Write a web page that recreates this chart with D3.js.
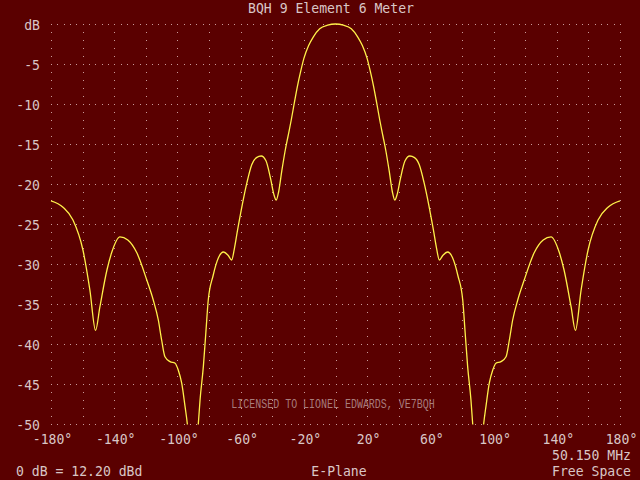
<!DOCTYPE html>
<html><head><meta charset="utf-8">
<script src="https://cdn.jsdelivr.net/npm/d3@7"></script>
<style>
html,body{margin:0;padding:0;background:#5a0000;}
svg{display:block;}
</style></head>
<body>
<svg id="chart" width="640" height="480"></svg>
<script>
// ---- data ----
const titleText = "BQH 9 Element 6 Meter";
const anglesDeg = [-180,-172.4,-166.1,-159.8,-155.4,-151.8,-149.1,-144.6,-141.5,-136.4,-131.4,-125.7,-119.4,-115.3,-112.1,-110,-107.9,-104.7,-101.5,-99.5,-97.3,-95.2,-93.8,-92,-90,-88,-86.8,-85.7,-83.6,-82,-80.5,-77.5,-74,-71,-68,-65.7,-64,-62,-59,-56,-53,-50,-47,-44,-41,-39,-37.5,-36,-34,-32,-30,-28,-26,-24,-22,-20,-17,-14,-10,-5,0,5,10,14,17,20,22,24,26,28,30,32,34,36,37.5,39,41,44,47,50,53,56,59,62,64,65.7,68,71,74,77.5,80.5,82,83.6,85.7,86.8,88,90,92,93.8,95.2,97.3,99.5,101.5,104.7,107.9,110,112.1,115.3,119.4,125.7,131.4,136.4,141.5,144.6,149.1,151.8,155.4,159.8,166.1,172.4,180];
const gainDb = [-22.1,-22.9,-24.5,-28.25,-33.25,-38.3,-35.4,-30.75,-28.5,-26.6,-27,-28.6,-32,-34.5,-37,-39.5,-41.6,-42.2,-42.4,-43.25,-44.9,-47.8,-49.9,-54,-60,-54,-50,-47,-42.8,-38.5,-34.5,-31.5,-29.2,-28.5,-28.9,-29.5,-28.1,-25.8,-22.6,-19.8,-17.6,-16.7,-16.5,-17.1,-19.4,-21.3,-22,-21.0,-18.4,-16.0,-14.0,-12.0,-9.8,-7.7,-5.9,-4.3,-2.7,-1.6,-0.6,-0.15,0,-0.15,-0.6,-1.6,-2.7,-4.3,-5.9,-7.7,-9.8,-12.0,-14.0,-16.0,-18.4,-21.0,-22,-21.3,-19.4,-17.1,-16.5,-16.7,-17.6,-19.8,-22.6,-25.8,-28.1,-29.5,-28.9,-28.5,-29.2,-31.5,-34.5,-38.5,-42.8,-47,-50,-54,-60,-54,-49.9,-47.8,-44.9,-43.25,-42.4,-42.2,-41.6,-39.5,-37,-34.5,-32,-28.6,-27,-26.6,-28.5,-30.75,-35.4,-38.3,-33.25,-28.25,-24.5,-22.9,-22.1];
const xTickValues = [-180,-140,-100,-60,-20,20,60,100,140,180];
const yTickValues = [0,-5,-10,-15,-20,-25,-30,-35,-40,-45,-50];
const xGridValues = [-180,-160,-140,-120,-100,-80,-60,-40,-20,0,20,40,60,80,100,120,140,160,180];
const footerLeft = "0 dB = 12.20 dBd";
const footerCenter = "E-Plane";
const footerFreq = "50.150 MHz";
const footerSpace = "Free Space";
const licenseText = "LICENSED TO LIONEL EDWARDS, VE7BQH";

// ---- drawing ----
const svg = d3.select("#chart");
const BG = "#5a0000", TXT = "#d9c6c6", GRID = "#c99a9a", LINE = "#fff04a";
const FONT = "'DejaVu Sans Mono', 'Liberation Mono', monospace";
const CW = 7.9, FS = 14;

svg.append("rect").attr("width",640).attr("height",480).attr("fill",BG);

const x = d3.scaleLinear().domain([-180,180]).range([51,620]);
const y = d3.scaleLinear().domain([0,-50]).range([24,424]);

function fit(sel, cw) {
  sel.each(function(){ const s=this.textContent; d3.select(this).attr("textLength",s.length*cw).attr("lengthAdjust","spacingAndGlyphs"); });
}
function txt(s, px, py, anchor, opts={}) {
  const t = svg.append("text").text(s)
    .attr("x",px).attr("y",py).attr("text-anchor",anchor)
    .attr("font-family", opts.font || FONT).attr("font-size", opts.size || FS)
    .attr("fill", opts.fill || TXT);
  fit(t, opts.cw || CW);
  return t;
}

// dotted grid
const grid = svg.append("g");
yTickValues.forEach(v => {
  d3.range(-180, 180.01, 4).forEach(d => {
    grid.append("rect").attr("x",Math.round(x(d))).attr("y",Math.round(y(v)))
      .attr("width",1).attr("height",1).attr("fill",GRID);
  });
});
xGridValues.forEach(d => {
  d3.range(0, -50.01, -1).forEach(v => {
    grid.append("rect").attr("x",Math.round(x(d))).attr("y",Math.round(y(v)))
      .attr("width",1).attr("height",1).attr("fill",GRID);
  });
});

// axes
const xAxis = d3.axisBottom(x).tickValues(xTickValues).tickSize(0).tickFormat(d => d + "°");
const gx = svg.append("g").attr("transform","translate(0,424)").call(xAxis);
gx.select(".domain").remove();
gx.selectAll("text").attr("y",20).attr("dy",0).attr("dx",1)
  .attr("font-family",FONT).attr("font-size",FS).attr("fill",TXT);
fit(gx.selectAll("text"), CW);

const yAxis = d3.axisLeft(y).tickValues(yTickValues).tickSize(0).tickFormat(v => v === 0 ? "dB" : String(v));
const gy = svg.append("g").attr("transform","translate(40,0)").call(yAxis);
gy.select(".domain").remove();
gy.selectAll("text").attr("x",0).attr("dy","0.36em")
  .attr("font-family",FONT).attr("font-size",FS).attr("fill",TXT);
fit(gy.selectAll("text"), CW);

// title and footers
txt(titleText, 331, 13, "middle");
txt(footerLeft, 16, 476, "start");
txt(footerCenter, 339, 476, "middle");
txt(footerFreq, 631, 460, "end");
txt(footerSpace, 631, 476, "end");
txt(licenseText, 333, 408, "middle", {size:13, cw:5.98, fill:"#a87c7c", font:"'Liberation Mono', monospace"});

// pattern curve
svg.append("clipPath").attr("id","plotClip").append("rect")
  .attr("x",40).attr("y",20).attr("width",600).attr("height",404.5);
const pts = anglesDeg.map((a,i) => [a, gainDb[i]]);
const line = d3.line().x(d => x(d[0])).y(d => y(d[1])).curve(d3.curveMonotoneX);
svg.append("path").datum(pts).attr("d",line)
  .attr("fill","none").attr("stroke",LINE).attr("stroke-width",1.3)
  .attr("clip-path","url(#plotClip)");
</script>
</body></html>
